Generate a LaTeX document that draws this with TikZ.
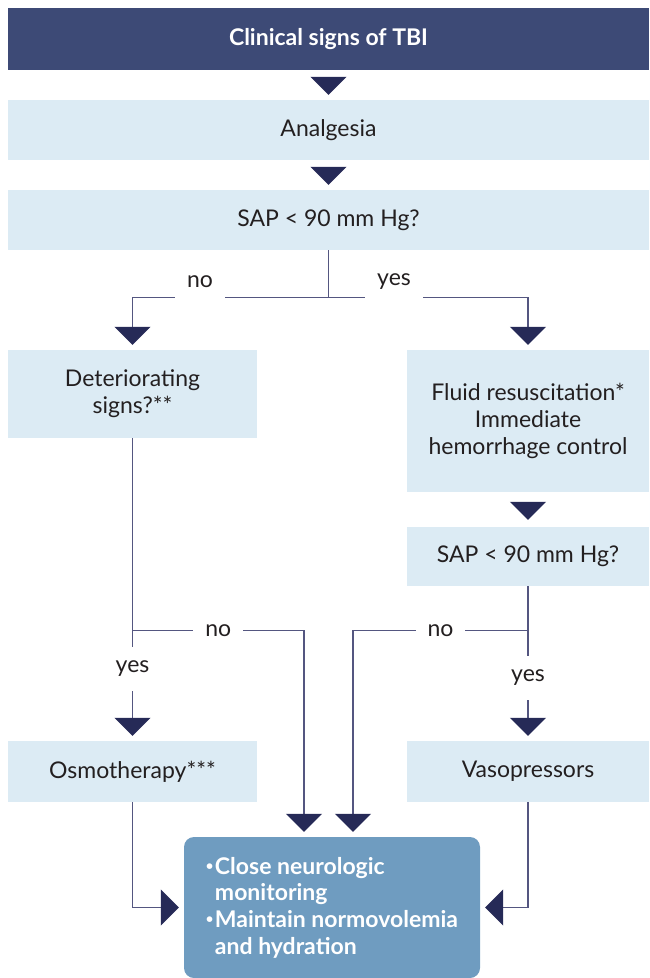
\documentclass[tikz,border=0pt]{standalone}
\usepackage{fontspec}
\setmainfont{Lato}
\usepackage{tikz}
\usetikzlibrary{arrows.meta,calc,positioning}
\definecolor{titlenavy}{RGB}{61,74,118}
\definecolor{arrownavy}{RGB}{38,42,87}
\definecolor{wirenavy}{RGB}{84,86,128}
\definecolor{softblue}{RGB}{220,235,244}
\definecolor{actionblue}{RGB}{111,156,192}
\definecolor{inkgrey}{RGB}{35,31,32}
\tikzset{
  titlebox/.style={fill=titlenavy,text=white,inner sep=0pt,
    font=\fontsize{23}{27}\selectfont\bfseries},
  stepbox/.style={fill=softblue,text=inkgrey,align=center,inner sep=0pt,
    font=\fontsize{23}{27}\selectfont},
  actionbox/.style={fill=actionblue,text=white,rounded corners=10pt,
    align=left,inner sep=0pt,font=\fontsize{23}{26.7}\selectfont\bfseries},
  wire/.style={draw=wirenavy,line width=1.3pt},
  flow/.style={wire,-{Triangle[width=36pt,length=18pt,color=arrownavy]},
    shorten >=5pt},
  gapflow/.style={flow,shorten <=7pt},
  branchlabel/.style={text=inkgrey,inner xsep=12pt,inner ysep=0pt,
    font=\fontsize{23}{27}\selectfont},
  gaplabel/.style={branchlabel,fill=white,inner ysep=14pt}
}
\newcommand{\itemdot}{\makebox[9pt][l]{\raisebox{3.5pt}{\fontsize{13}{13}\selectfont\textbullet}}}

\begin{document}
\begin{tikzpicture}[x=1pt,y=-1pt]
  \useasboundingbox (0,0) rectangle (649,978);
  \node[titlebox,minimum width=641pt,minimum height=62pt] (title) at (328.5,39) {Clinical signs of TBI};
  \node[stepbox,minimum width=641pt,minimum height=60pt] (analgesia) at (328.5,130) {Analgesia};
  \node[stepbox,minimum width=641pt,minimum height=60pt] (sapfirst) at (328.5,220) {SAP < 90 mm Hg?};
  \node[stepbox,minimum width=249pt,minimum height=88pt] (deter) at (132.5,394) {Deteriorating\\signs?**};
  \node[stepbox,minimum width=242pt,minimum height=142pt] (fluid) at (528,421) {Fluid resuscitation*\\Immediate\\hemorrhage control};
  \node[stepbox,minimum width=242pt,minimum height=59pt] (sapsecond) at (528,556.5) {SAP < 90 mm Hg?};
  \node[stepbox,minimum width=249pt,minimum height=61pt] (osmo) at (132.5,771.5) {Osmotherapy***};
  \node[stepbox,minimum width=242pt,minimum height=61pt] (vaso) at (528,771.5) {Vasopressors};
  \node[actionbox,minimum width=296pt,minimum height=141pt] (final) at (332,907.5)
    {\itemdot Close neurologic\\\hspace*{9pt}monitoring\\\itemdot Maintain normovolemia\\\hspace*{9pt}and hydration};

  % straight steps at the top
  \draw[gapflow] (title) -- (analgesia);
  \draw[gapflow] (analgesia) -- (sapfirst);
  \draw[gapflow,shorten <=10pt,shorten >=7pt] (fluid) -- (sapsecond);

  % first question
  \path (sapfirst.south) ++(0,47) coordinate (tsplit);
  \node[branchlabel] (nofirst) at (200,282) {no};
  \node[branchlabel] (yesfirst) at (394,282) {yes};
  \draw[wire] (sapfirst.south) -- (tsplit);
  \draw[wire] (tsplit) -- (nofirst.east |- tsplit);
  \draw[wire] (tsplit) -- (yesfirst.west |- tsplit);
  \draw[flow] (nofirst.west |- tsplit) -| (deter.north);
  \draw[flow] (yesfirst.east |- tsplit) -| (fluid.north);

  % second questions
  \path (deter.south) ++(0,192) coordinate (lsplit);
  \coordinate (rsplit) at (sapsecond.south |- lsplit);
  \draw[wire] (deter.south) -- (lsplit);
  \draw[flow] (lsplit) -- node[gaplabel,pos=0.35] {yes} (osmo.north);
  \draw[flow] (lsplit) -| node[gaplabel,pos=0.25] {no} ([xshift=-28pt]final.north);
  \draw[wire] (sapsecond.south) -- (rsplit);
  \draw[flow] (rsplit) -- node[gaplabel,pos=0.43] {yes} (vaso.north);
  \draw[flow] (rsplit) -| node[gaplabel,pos=0.25] {no} ([xshift=21pt]final.north);

  % into the final box
  \draw[flow] (osmo.south) |- (final.west);
  \draw[flow] (vaso.south) |- (final.east);
\end{tikzpicture}
\end{document}
